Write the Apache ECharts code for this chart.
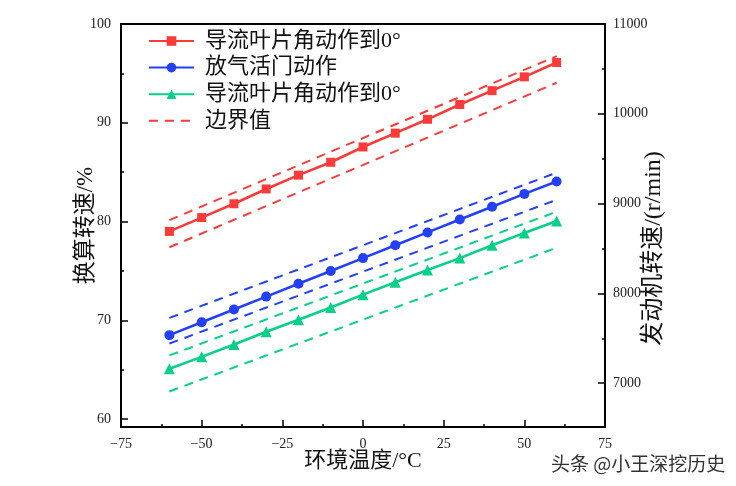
<!DOCTYPE html>
<html>
<head>
<meta charset="utf-8">
<script src="https://cdn.jsdelivr.net/npm/echarts@6/dist/echarts.min.js"></script>
<style>
html,body{margin:0;padding:0;background:#fff;}
#c{width:736px;height:486px;}
</style>
</head>
<body>
<div id="c"></div>
<script>
// ---- data ----
var temps = [-60, -50, -40, -30, -20, -10, 0, 10, 20, 30, 40, 50, 60];
var redVals   = [79.0, 80.4, 81.8, 83.3, 84.7, 86.0, 87.55, 88.95, 90.35, 91.85, 93.25, 94.65, 96.1];
var blueVals  = [68.5, 69.8, 71.1, 72.4, 73.7, 75.0, 76.3, 77.6, 78.9, 80.2, 81.5, 82.8, 84.05];
var greenVals = [65.1, 66.3, 67.55, 68.85, 70.05, 71.3, 72.6, 73.85, 75.1, 76.3, 77.6, 78.85, 80.05];
// boundary lines (values at the two ends, x = -60 and x = 60)
var boundX = [-60, 60];
var redUpper   = [80.15, 96.75];
var redLower   = [77.4, 94.05];
var blueUpper  = [70.25, 84.95];
var blueLower  = [67.65, 82.2];
var greenUpper = [66.45, 81.0];
var greenLower = [62.8, 77.35];
// axes
var yLeftTicks = [60, 70, 80, 90, 100];
var yLeftMinor = [65, 75, 85, 95];
var yRightTicks = [7000, 8000, 9000, 10000, 11000];
var yRightMinor = [7500, 8500, 9500, 10500];
var legendNames = ['导流叶片角动作到0°', '放气活门动作', '导流叶片角动作到0° ', '边界值'];

var RED = '#fb3a3a', BLUE = '#2340f7', GREEN = '#07d088';
var SERIF = "'Liberation Serif', 'Noto Sans CJK SC', serif";

function pairs(xs, ys) { return xs.map(function (x, i) { return [x, ys[i]]; }); }
function mainSeries(name, vals, color, symbol, size) {
  return {
    name: name, type: 'line', xAxisIndex: 0, yAxisIndex: 0,
    data: pairs(temps, vals), symbol: symbol, symbolSize: size,
    lineStyle: { color: color, width: 2.6 }, itemStyle: { color: color },
    z: 5, animation: false
  };
}
function boundSeries(name, vals, color) {
  return {
    name: name, type: 'line', xAxisIndex: 0, yAxisIndex: 0,
    data: pairs(boundX, vals), symbol: 'none', showSymbol: false,
    lineStyle: { color: color, width: 2, type: [9, 7] }, itemStyle: { color: color },
    z: 3, animation: false
  };
}
var minus = function (v) { return String(v).replace('-', '\u2212'); };
var plain = function (v) { return String(v); };

var axisLineStyle = { show: true, onZero: false, lineStyle: { color: '#000', width: 2 } };
var labelStyle = { color: '#222', fontFamily: SERIF, fontSize: 14 };

var chart = echarts.init(document.getElementById('c'));
chart.setOption({
  animation: false,
  backgroundColor: '#fff',
  grid: { left: 121, right: 131, top: 24, bottom: 59, show: true, borderColor: '#000', borderWidth: 2, backgroundColor: 'transparent' },
  legend: {
    data: [
      { name: legendNames[0] },
      { name: legendNames[1] },
      { name: legendNames[2] },
      { name: legendNames[3], itemStyle: { opacity: 0 } }
    ],
    left: 143, top: 24, orient: 'vertical',
    itemWidth: 45, itemHeight: 12, itemGap: 2.6, selectedMode: false,
    textStyle: { fontFamily: SERIF, fontSize: 22, color: '#111', lineHeight: 24, padding: [0, 0, 0, 6] }
  },
  xAxis: [{
    type: 'value', min: -75, max: 75, interval: 25, position: 'bottom',
    axisLine: axisLineStyle,
    axisTick: { show: true, inside: true, length: 7, lineStyle: { color: '#000', width: 1.5 } },
    minorTick: { show: true, splitNumber: 2, length: 3, lineStyle: { color: '#000', width: 1.5 } },
    splitLine: { show: false },
    axisLabel: Object.assign({ margin: 10, formatter: minus }, labelStyle),
    name: '环境温度/°C', nameLocation: 'middle', nameGap: 23, nameMoveOverlap: false,
    nameTextStyle: { fontFamily: SERIF, fontSize: 22, color: '#111' }
  }],
  yAxis: [{
    type: 'value', min: 59.2, max: 100, position: 'left',
    axisLine: axisLineStyle,
    axisTick: { show: true, inside: true, length: 7, customValues: yLeftTicks, lineStyle: { color: '#000', width: 1.5 } },
    splitLine: { show: false },
    axisLabel: Object.assign({ margin: 10, customValues: yLeftTicks, formatter: plain }, labelStyle),
    name: '换算转速/%', nameLocation: 'middle', nameGap: 24, nameRotate: 90, nameMoveOverlap: false,
    nameTextStyle: { fontFamily: SERIF, fontSize: 23, color: '#111' }
  }, {
    type: 'value', min: 59.2, max: 100, position: 'left',
    axisLine: { show: false, onZero: false },
    axisTick: { show: true, inside: true, length: 3, customValues: yLeftMinor, lineStyle: { color: '#000', width: 1.5 } },
    splitLine: { show: false },
    axisLabel: { show: false }
  }, {
    type: 'value', min: 6512, max: 11000, position: 'right',
    axisLine: axisLineStyle,
    axisTick: { show: true, inside: true, length: 7, customValues: yRightTicks, lineStyle: { color: '#000', width: 1.5 } },
    splitLine: { show: false },
    axisLabel: Object.assign({ margin: 8, customValues: yRightTicks, formatter: plain }, labelStyle),
    name: '发动机转速/(r/min)', nameLocation: 'middle', nameGap: 37, nameRotate: 90, nameMoveOverlap: false,
    nameTextStyle: { fontFamily: SERIF, fontSize: 24, color: '#111', padding: [0, 46, 0, 0] }
  }, {
    type: 'value', min: 6512, max: 11000, position: 'right',
    axisLine: { show: false, onZero: false },
    axisTick: { show: true, inside: true, length: 3, customValues: yRightMinor, lineStyle: { color: '#000', width: 1.5 } },
    splitLine: { show: false },
    axisLabel: { show: false }
  }],
  graphic: [{
    type: 'text', left: 551, top: 454,
    style: { text: '头条 @小王深挖历史', font: "19px 'Noto Sans CJK SC', sans-serif", fill: '#333' }
  }],
  series: [
    mainSeries(legendNames[0], redVals, RED, 'rect', 9),
    mainSeries(legendNames[1], blueVals, BLUE, 'circle', 10),
    mainSeries(legendNames[2], greenVals, GREEN, 'triangle', 11),
    boundSeries(legendNames[3], redUpper, RED),
    boundSeries('redLower', redLower, RED),
    boundSeries('blueUpper', blueUpper, BLUE),
    boundSeries('blueLower', blueLower, BLUE),
    boundSeries('greenUpper', greenUpper, GREEN),
    boundSeries('greenLower', greenLower, GREEN)
  ]
});
</script>
</body>
</html>
